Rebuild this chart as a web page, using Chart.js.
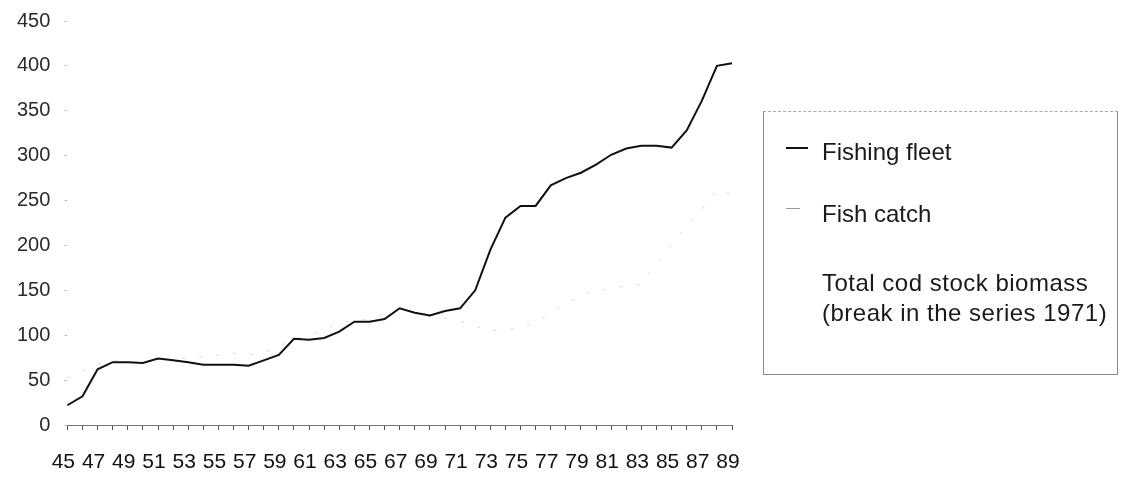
<!DOCTYPE html>
<html>
<head>
<meta charset="utf-8">
<script src="https://cdn.jsdelivr.net/npm/chart.js@4"></script>
<style>
  body { margin: 0; background: #fff; font-family: "Liberation Sans", Arial, sans-serif; overflow: hidden; }
  #wrap { position: relative; width: 1121px; height: 487px; overflow: hidden; }
  #codChart { position: absolute; left: 0; top: -5px; }
  #legendBox {
    position: absolute; left: 763px; top: 111px; width: 355px; height: 264px;
    border: 1px solid #8a8a8a; border-top-style: dashed; border-top-color: #aaa;
    box-sizing: border-box; color: #1a1a1a; font-size: 24px;
  }
  .item { position: absolute; left: 58px; line-height: 28px; white-space: nowrap; }
  .wide { letter-spacing: 0.5px; }
  .mark { position: absolute; left: 22px; height: 0; }
</style>
</head>
<body>
<div id="wrap">
  <canvas id="codChart" width="1121" height="487"></canvas>
  <div id="legendBox">
    <div class="mark" style="top:35px;width:22px;border-top:2px solid #111"></div>
    <div class="item" style="top:26px">Fishing fleet</div>
    <div class="mark" style="top:96px;width:14px;border-top:1px solid #999"></div>
    <div class="item" style="top:88px">Fish catch</div>
    <div class="item wide" style="top:157px">Total cod stock biomass</div>
    <div class="item wide" style="top:187px">(break in the series 1971)</div>
  </div>
</div>
<script>
// years 1945-1989, shown as two digits
const years = [45,46,47,48,49,50,51,52,53,54,55,56,57,58,59,60,61,62,63,64,65,66,67,
  68,69,70,71,72,73,74,75,76,77,78,79,80,81,82,83,84,85,86,87,88,89];

const fishingFleet = [22,32,62,70,70,69,74,72,70,67,67,67,66,72,78,96,95,97,104,115,115,118,130,
  125,122,127,130,150,195,231,244,244,267,275,281,290,301,308,311,311,309,328,361,400,403];

// faint in the source, only fragments legible
const fishCatch = [52,60,68,72,70,70,72,74,75,76,78,80,78,80,88,96,100,106,114,116,118,124,130,
  125,120,119,116,110,105,106,108,115,125,135,145,150,152,155,157,180,200,222,240,262,257];

// not legible in the source scan
const biomass = [];

const yTicks = [0,50,100,150,200,250,300,350,400,450];

new Chart(document.getElementById("codChart"), {
  type: "line",
  data: {
    labels: years.map(y => String(y)),
    datasets: [
      { label: "Fishing fleet", data: fishingFleet, borderColor: "#111", borderWidth: 2,
        pointRadius: 0, tension: 0 },
      { label: "Fish catch", data: fishCatch, borderColor: "rgba(120,120,120,0.3)", borderWidth: 1,
        borderDash: [3, 14], pointRadius: 0, tension: 0 },
      { label: "Total cod stock biomass", data: biomass, borderColor: "rgba(150,150,150,0.2)",
        borderWidth: 1, pointRadius: 0 }
    ]
  },
  options: {
    responsive: false,
    animation: false,
    layout: { padding: { top: 0, right: 389, left: 3, bottom: 0 } },
    plugins: { legend: { display: false }, tooltip: { enabled: false } },
    scales: {
      x: {
        offset: false,
        afterFit: axis => { axis.height = 57; },
        grid: { display: true, drawOnChartArea: false, tickLength: 5, color: "#555" },
        border: { display: true, color: "#777", dash: [2, 3] },
        ticks: {
          autoSkip: false, maxRotation: 0, padding: 20, labelOffset: -4, color: "#111",
          font: { family: "Liberation Sans", size: 21 },
          callback: function (v, i) { return i % 2 === 0 ? this.getLabelForValue(v) : ""; }
        }
      },
      y: {
        min: 0, max: 450,
        afterBuildTicks: axis => { axis.ticks = yTicks.map(v => ({ value: v })); },
        grid: { display: true, drawOnChartArea: false, tickLength: 3, color: "#bbb" },
        border: { display: false },
        ticks: { padding: 14, color: "#2a2a2a", font: { family: "Liberation Sans", size: 20 } }
      }
    }
  }
});
</script>
</body>
</html>
